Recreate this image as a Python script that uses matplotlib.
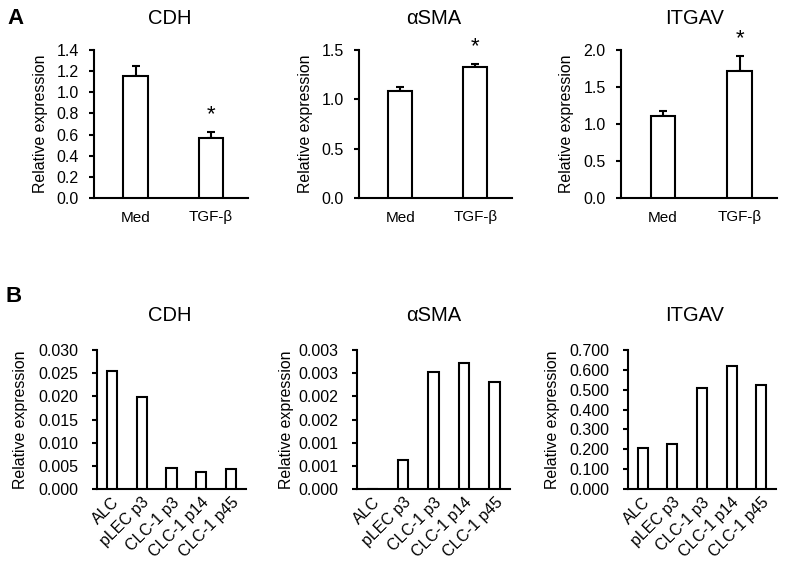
import matplotlib
matplotlib.use("Agg")
import matplotlib.pyplot as plt

plt.rcParams["font.family"] = ["Liberation Sans", "DejaVu Sans"]

# ---- panel A: Med vs TGF-beta (mean + SEM) ----
A_GROUPS = ["Med", "TGF-β"]
A_CDH = [1.156, 0.567]
A_CDH_ERR = [0.090, 0.060]
A_SMA = [1.080, 1.326]
A_SMA_ERR = [0.047, 0.030]
A_ITGAV = [1.110, 1.721]
A_ITGAV_ERR = [0.063, 0.198]
A_SIG = [False, True]

# ---- panel B: cell lines ----
B_GROUPS = ["ALC", "pLEC p3", "CLC-1 p3", "CLC-1 p14", "CLC-1 p45"]
B_CDH = [0.0254, 0.0199, 0.0046, 0.0037, 0.0043]
B_SMA = [0.0, 0.00062, 0.00253, 0.00273, 0.00230]
B_ITGAV = [0.204, 0.228, 0.511, 0.618, 0.524]

A_CDH_TICKS = [0.0, 0.2, 0.4, 0.6, 0.8, 1.0, 1.2, 1.4]
A_SMA_TICKS = [0.0, 0.5, 1.0, 1.5]
A_ITGAV_TICKS = [0.0, 0.5, 1.0, 1.5, 2.0]
B_CDH_TICKS = [0.0, 0.005, 0.010, 0.015, 0.020, 0.025, 0.030]
B_SMA_TICKS = [0.0, 0.0005, 0.0010, 0.0015, 0.0020, 0.0025, 0.0030]
B_SMA_LABELS = ["0.000", "0.001", "0.001", "0.002", "0.002", "0.003", "0.003"]
B_ITGAV_TICKS = [0.0, 0.1, 0.2, 0.3, 0.4, 0.5, 0.6, 0.7]

LW = 1.5
W, H = 785, 568


def px_axes(fig, left, right, top, bottom):
    return fig.add_axes([left / W, 1 - bottom / H, (right - left) / W, (bottom - top) / H])


def style(ax, ticks, fmt, labels=None, pad=7):
    for s in ("top", "right"):
        ax.spines[s].set_visible(False)
    for s in ("left", "bottom"):
        ax.spines[s].set_linewidth(LW)
    ax.set_ylim(ticks[0], ticks[-1])
    ax.set_yticks(ticks)
    if labels is None:
        labels = [fmt.format(t) for t in ticks]
    ax.set_yticklabels(labels)
    ax.tick_params(axis="y", direction="out", length=3.5, width=LW, labelsize=11.5, pad=pad)
    ax.set_ylabel("Relative expression", fontsize=11.4)


def panel_a(ax, title, vals, errs, ticks, fmt, title_x):
    x = range(len(A_GROUPS))
    ax.bar(x, vals, width=0.32, color="white", edgecolor="black", linewidth=LW, zorder=3)
    ax.errorbar(x, vals, yerr=[[0] * len(errs), errs], fmt="none", ecolor="black",
                elinewidth=LW, capsize=3.2, capthick=LW, zorder=2)
    for i, sig in enumerate(A_SIG):
        if sig:
            ax.annotate("*", (i, vals[i] + errs[i]), xytext=(0, 5), textcoords="offset points",
                        ha="center", va="bottom", fontsize=16, annotation_clip=False)
    ax.set_xlim(-0.55, 1.49)
    ax.set_xticks(list(x))
    ax.set_xticklabels(A_GROUPS)
    ax.tick_params(axis="x", length=0, labelsize=11, pad=9)
    style(ax, ticks, fmt, pad=7.5)
    ax.set_title(title, fontsize=14.5, x=title_x, pad=19)
    ax.yaxis.set_label_coords(-0.30, 0.5)


def panel_b(ax, title, vals, ticks, fmt, title_x, labels=None):
    x = range(len(B_GROUPS))
    ax.bar(x, vals, width=0.34, color="white", edgecolor="black", linewidth=LW, zorder=3)
    ax.set_xlim(-0.5, len(B_GROUPS) - 0.5)
    ax.set_xticks(list(x))
    ax.set_xticklabels(B_GROUPS, rotation=45, ha="right", va="top", rotation_mode="anchor")
    ax.tick_params(axis="x", length=0, labelsize=11.5, pad=4)
    style(ax, ticks, fmt, labels, pad=10)
    ax.set_title(title, fontsize=14.5, x=title_x, pad=21)


fig = plt.figure(figsize=(W / 100, H / 100), dpi=100)

ax1 = px_axes(fig, 94, 248, 50, 198)
panel_a(ax1, "CDH", A_CDH, A_CDH_ERR, A_CDH_TICKS, "{:.1f}", 0.49)
ax2 = px_axes(fig, 359, 512, 50, 198)
panel_a(ax2, "αSMA", A_SMA, A_SMA_ERR, A_SMA_TICKS, "{:.1f}", 0.49)
ax3 = px_axes(fig, 621, 777, 50, 198)
panel_a(ax3, "ITGAV", A_ITGAV, A_ITGAV_ERR, A_ITGAV_TICKS, "{:.1f}", 0.47)

bx1 = px_axes(fig, 97, 246, 350, 489)
panel_b(bx1, "CDH", B_CDH, B_CDH_TICKS, "{:.3f}", 0.49)
bx1.yaxis.set_label_coords(-0.46, 0.5)
bx2 = px_axes(fig, 357, 510, 350, 489)
panel_b(bx2, "αSMA", B_SMA, B_SMA_TICKS, "{:.3f}", 0.50, B_SMA_LABELS)
bx2.yaxis.set_label_coords(-0.41, 0.5)
bx3 = px_axes(fig, 628, 776, 350, 489)
panel_b(bx3, "ITGAV", B_ITGAV, B_ITGAV_TICKS, "{:.3f}", 0.45)
bx3.yaxis.set_label_coords(-0.46, 0.5)

fig.text(16 / W, 1 - 18 / H, "A", fontsize=16, fontweight="bold", ha="center", va="center")
fig.text(14 / W, 1 - 296 / H, "B", fontsize=16, fontweight="bold", ha="center", va="center")

fig.savefig("out.png", dpi=100)
